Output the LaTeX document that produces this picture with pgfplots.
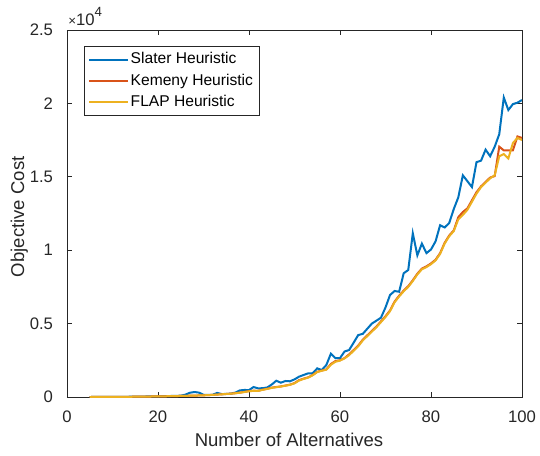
\documentclass[border=0pt]{standalone}
\usepackage{fontspec}
\setmainfont{Liberation Sans}
\usepackage{pgfplots}
\pgfplotsset{compat=1.18}
\usepackage{pgfplotstable}
\definecolor{mblue}{rgb}{0,0.447,0.741}
\definecolor{morange}{rgb}{0.85,0.325,0.098}
\definecolor{myellow}{rgb}{0.929,0.694,0.125}
\definecolor{axgray}{rgb}{0.15,0.15,0.15}

\pgfplotstableread{
x S K F
5 0 0 0
6 1 1 1
7 2 2 2
8 3 3 3
9 5 4 4
10 7 6 6
11 9 8 8
12 12 10 10
13 15 13 13
14 19 16 16
15 23 20 20
16 28 24 24
17 33 28 28
18 38 32 32
19 44 37 37
20 50 42 42
21 56 47 47
22 62 52 52
23 70 58 58
24 78 65 65
25 90 72 72
26 160 80 80
27 290 88 88
28 340 96 96
29 300 105 105
30 150 115 115
31 140 128 128
32 150 145 145
33 280 165 165
34 200 185 185
35 210 205 205
36 230 230 225
37 300 260 255
38 450 300 290
39 480 350 340
40 470 400 390
41 680 430 420
42 590 420 415
43 600 500 490
44 650 560 550
45 850 640 620
46 1110 680 670
47 975 720 710
48 1090 780 770
49 1070 840 830
50 1200 950 930
51 1385 1150 1120
52 1500 1250 1230
53 1610 1340 1320
54 1620 1500 1480
55 1950 1720 1700
56 1840 1800 1790
57 2180 1880 1860
58 2950 2250 2200
59 2640 2450 2400
60 2650 2500 2480
61 3100 2650 2630
62 3200 2900 2850
63 3700 3200 3150
64 4220 3500 3450
65 4300 3900 3850
66 4650 4200 4150
67 5000 4500 4450
68 5200 4800 4750
69 5400 5150 5100
70 6100 5500 5450
71 6950 5900 5850
72 7220 6500 6450
73 7170 6900 6850
74 8430 7250 7200
75 8650 7550 7500
76 11150 7950 7900
77 9650 8400 8350
78 10450 8750 8700
79 9800 8900 8850
80 10050 9100 9050
81 10600 9350 9300
82 11700 9800 9750
83 11550 10500 10450
84 11850 11000 10950
85 12800 11350 11300
86 13600 12250 12100
87 15100 12600 12400
88 14700 12850 12750
89 14300 13400 13300
90 16000 13950 13850
91 16100 14350 14300
92 16850 14650 14600
93 16400 14950 14900
94 17050 15050 15100
95 17900 17050 16400
96 20400 16800 16550
97 19550 16800 16250
98 19950 16800 17300
99 20050 17750 17650
100 20230 17650 17500
}\datatable

\begin{document}
\begin{tikzpicture}
\useasboundingbox (-50.25pt,-43.5pt) rectangle (354.75pt,297.75pt);
\begin{axis}[
  at={(0,0)}, anchor=south west,
  scale only axis, width=341.25pt, height=275.25pt,
  xmin=0, xmax=100, ymin=0, ymax=25000,
  xtick={0,20,...,100},
  ytick={0,5000,...,25000},
  yticklabels={0,0.5,1,1.5,2,2.5},
  scaled y ticks=false,
  tick align=inside,
  major tick length=3.5pt,
  axis line style={axgray, line width=0.6pt},
  every tick/.style={axgray, line width=0.6pt},
  /pgf/number format/assume math mode=true,
  ticklabel style={font=\fontsize{12.5}{15}\selectfont, text=axgray, inner sep=0pt},
  xticklabel style={anchor=base, yshift=-19.3pt},
  yticklabel style={anchor=east, xshift=-10.3pt},
  label style={font=\fontsize{13.9}{16}\selectfont, text=axgray},
  xlabel={Number of Alternatives},
  ylabel={Objective Cost},
  xlabel style={at={(axis description cs:0.488,-0.1362)}, anchor=base},
  ylabel style={at={(axis description cs:-0.0945,0.491)}, anchor=base},
  legend cell align=left,
  legend style={at={(rel axis cs:0.0374,0.9564)}, anchor=north west,
    draw=axgray, line width=0.6pt, fill=white,
    inner xsep=2.85pt, inner ysep=2.25pt,
    font=\fontsize{11.7}{14}\selectfont,
    nodes={inner xsep=1.65pt, inner ysep=2.4pt, text height=8.5pt, text depth=2.5pt}},
  legend image code/.code={\draw[#1] (0pt,0pt) -- (28.75pt,0pt);},
  clip=true,
]
\addplot[mblue, line width=1.5pt] table[x=x, y=S] {\datatable};
\addlegendentry{Slater Heuristic}
\addplot[morange, line width=1.5pt] table[x=x, y=K] {\datatable};
\addlegendentry{Kemeny Heuristic}
\addplot[myellow, line width=1.5pt] table[x=x, y=F] {\datatable};
\addlegendentry{FLAP Heuristic}
\end{axis}
\node[anchor=base west, inner sep=0pt, text=axgray, font=\fontsize{12.5}{15}\selectfont] at (0.75pt,279pt) {{\fontsize{10}{12}\selectfont ×}10\raisebox{0.5em}{\fontsize{10}{12}\selectfont 4}};
\end{tikzpicture}
\end{document}
